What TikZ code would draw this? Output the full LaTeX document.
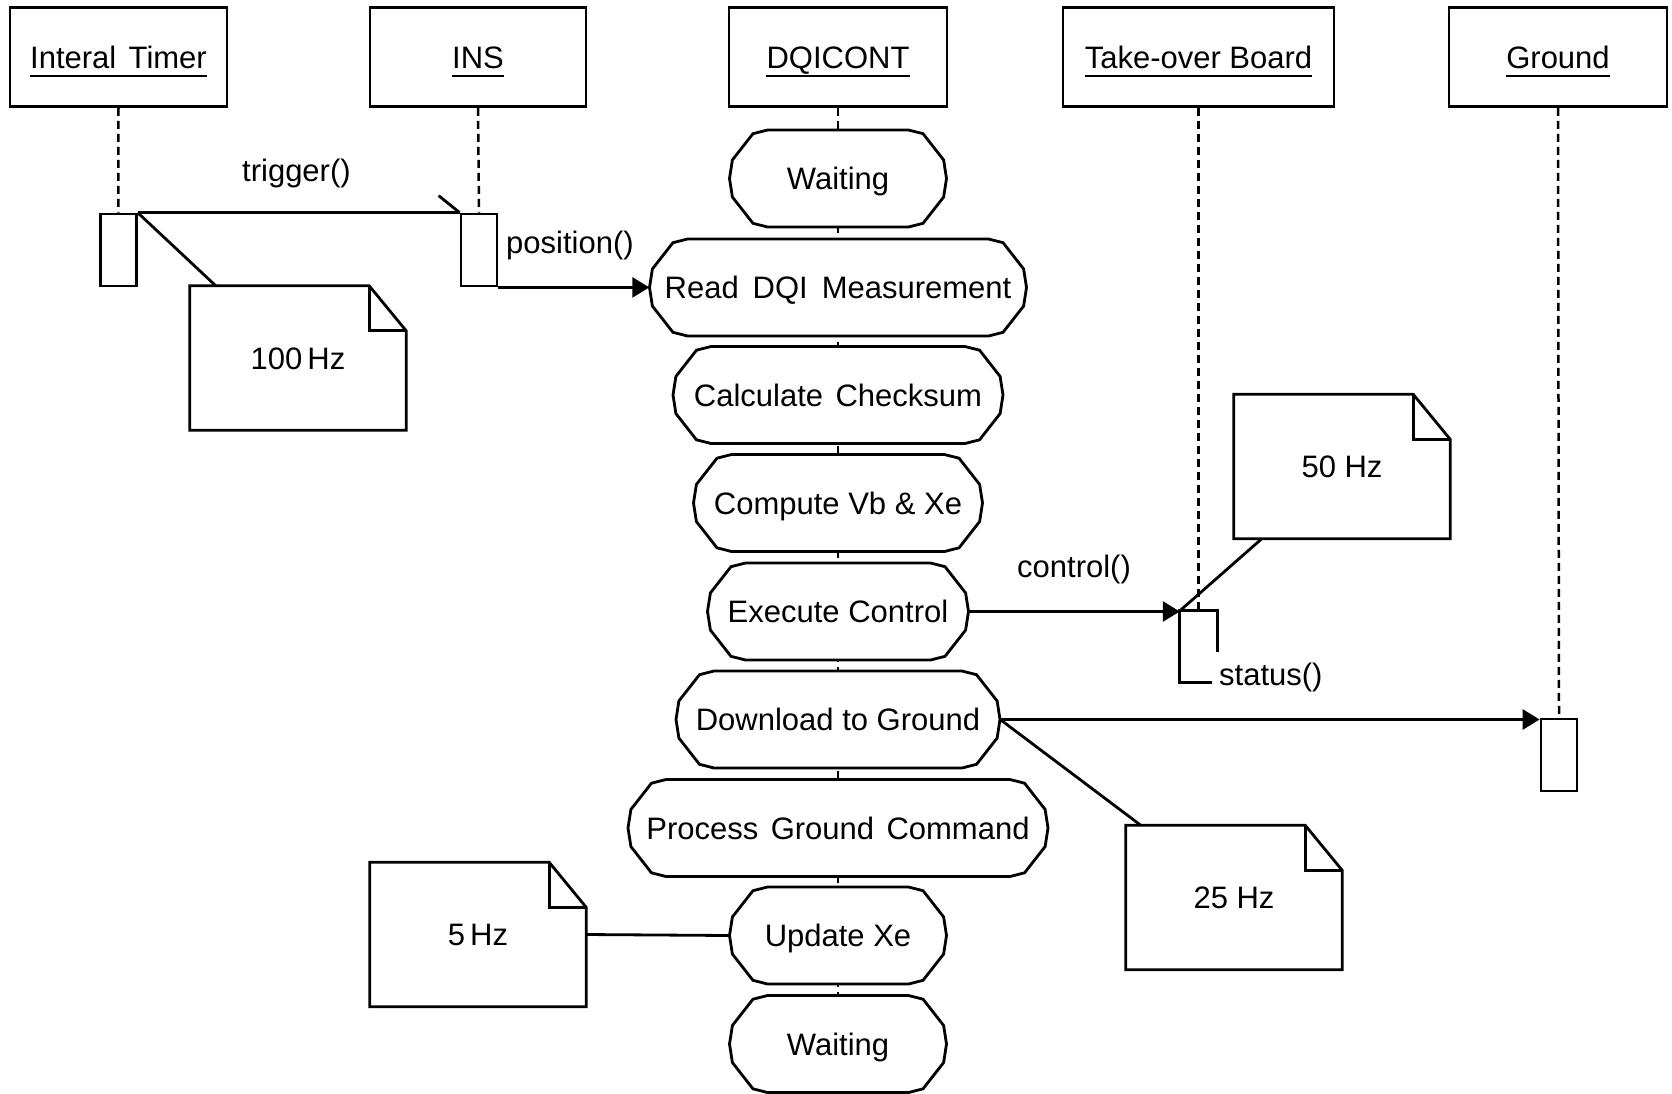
\documentclass[tikz,border=0pt]{standalone}
\usepackage{fontspec}
\setmainfont{Liberation Sans}
\usetikzlibrary{arrows.meta}

% outline of a DQICONT state: flat top and bottom, faceted round ends
\newcommand\dqstate[4]{%
  \pgfmathsetmacro\cx{#3/2-38}%
  \begin{scope}[shift={(838,#2)}]
    \draw[line, fill=white] (-\cx,-48.5) -- (\cx,-48.5)
      \foreach \a in {67.5,22.5,0,-22.5,-67.5,-90} {-- ({\cx+38*cos(\a)},{-48.5*sin(\a)})}
      -- (-\cx,48.5)
      \foreach \a in {247.5,202.5,180,157.5,112.5} {-- ({-\cx+38*cos(\a)},{-48.5*sin(\a)})}
      -- cycle;
  \end{scope}
  \node[stext, minimum width=#3pt] (#1) at (838,#2) {#4};%
}
% note with a folded corner, drawn around a named node
\newcommand\notepath[1]{%
  \draw[line, fill=white] (#1.north west) -- ([xshift=-37pt]#1.north east)
    -- ([yshift=-45pt]#1.north east) -- (#1.south east) -- (#1.south west) -- cycle;
  \draw[line] ([xshift=-37pt]#1.north east) -- ([xshift=-37pt,yshift=-45pt]#1.north east)
    -- ([yshift=-45pt]#1.north east);%
}
% underline under a header label
\newcommand\headrule[1]{%
  \draw[line] ([yshift=-8pt]#1.base west) -- ([yshift=-8pt]#1.base east);%
}

\begin{document}
\begin{tikzpicture}[x=1pt,y=-1pt,
  every node/.style={font=\fontsize{31}{37}\selectfont},
  line/.style={line width=2.8pt},
  life/.style={line width=2.5pt, dash pattern=on 8pt off 5pt},
  hbox/.style={draw, line width=2.8pt, minimum height=99pt, inner sep=0pt},
  htext/.style={anchor=base, inner sep=0pt},
  act/.style={draw, line width=2.8pt, fill=white, minimum width=36pt, minimum height=72pt, inner sep=0pt},
  stext/.style={inner sep=0pt, minimum height=97pt, text height=22pt, text depth=0pt},
  notebox/.style={inner sep=0pt, minimum width=216pt, minimum height=144pt, text height=22pt, text depth=0pt},
  msg/.style={line width=2.8pt, -{Triangle[length=17pt,width=20pt]}},
  lbl/.style={inner sep=0pt, anchor=base west},
]
\useasboundingbox (0,0) rectangle (1672,1093);

% object headers
\node[hbox, minimum width=217pt] (timer) at (118.5,57) {};
\node[hbox, minimum width=216pt] (ins) at (478,57) {};
\node[hbox, minimum width=218pt] (dq) at (838,57) {};
\node[hbox, minimum width=271pt] (tk) at (1198.5,57) {};
\node[hbox, minimum width=218pt] (gr) at (1558,57) {};
\node[htext] (timerT) at (118.5,68) {Interal\hspace{0.4em}Timer};
\node[htext] (insT) at (478,68) {INS};
\node[htext] (dqT) at (838,68) {DQICONT~};
\node[htext] (tkT) at (1198.5,68) {Take-over Board};
\node[htext] (grT) at (1558,68) {Ground};
\headrule{timerT}\headrule{insT}\headrule{dqT}\headrule{tkT}\headrule{grT}

% activations
\node[act] (ta) at (118.25,250) {};
\node[act] (ia) at (479,250) {};
\node[act] (ga) at (1559,755) {};
\node[inner sep=0pt, minimum width=37pt, minimum height=71pt] (tka) at (1198.5,646.5) {};

% lifelines
\draw[life] (timer.south) -- (ta.north);
\draw[life] (ins.south) -- (ia.north);
\draw[life] (dq.south) -- (838,1044);
\draw[life] (tk.south) -- (tka.north);
\draw[life] (gr.south) -- (ga.north);

% DQICONT states
\dqstate{w1}{178.5}{217}{Waiting}
\dqstate{read}{287.5}{377}{Read\hspace{0.45em}DQI\hspace{0.45em}Measurement}
\dqstate{calc}{395}{330}{Calculate\hspace{0.4em}Checksum}
\dqstate{comp}{503}{289}{Compute Vb \& Xe}
\dqstate{exec}{611.5}{261}{Execute Control}
\dqstate{dl}{719.5}{324}{Download to Ground}
\dqstate{proc}{828}{420}{Process\hspace{0.4em}Ground\hspace{0.4em}Command}
\dqstate{upd}{935.5}{217}{Update Xe}
\dqstate{w2}{1044}{217}{Waiting}

% notes
\node[notebox] (n100) at (298,358) {};
\node[notebox] (n50) at (1342,466.5) {};
\node[notebox] (n25) at (1234,897.5) {};
\node[notebox] (n5) at (478,934.5) {};
\notepath{n100}\notepath{n50}\notepath{n25}\notepath{n5}
\node[notebox] at (n100) {100\,Hz};
\node[notebox] at (n50) {50 Hz};
\node[notebox] at (n25) {25 Hz};
\node[notebox] at (n5) {5\,Hz};

% note attachments
\draw[line] (ta.north east) -- ([xshift=26pt]n100.north west);
\draw[line] ([xshift=28pt]n50.south west) -- (tka.north west);
\draw[line] (dl.east) -- ([xshift=15pt]n25.north west);
\draw[line] (n5.east) -- (upd.west);

% messages
\draw[line] (ta.north east) -- (ia.north west);
\draw[line] (ia.north west) -- ++(-21,-17);
\draw[msg] (ia.south east) -- (ia.south east -| read.west);
\draw[msg] (exec.east) -- (exec.east -| tka.west);
\draw[msg] (dl.east) -- (dl.east -| ga.west);

% take-over board activation with status() return
\draw[line] ([yshift=-41pt]tka.north east) -- (tka.north east) -- (tka.north west)
  -- (tka.south west) -- ([xshift=32pt]tka.south west);

% message labels
\node[lbl] (trig) at (242,181) {trigger()};
\node[lbl] (pos) at (506,253) {position()};
\node[lbl] (ctl) at (1017,577) {control()};
\node[lbl] (stat) at (1219,685) {status()};

\end{tikzpicture}
\end{document}
